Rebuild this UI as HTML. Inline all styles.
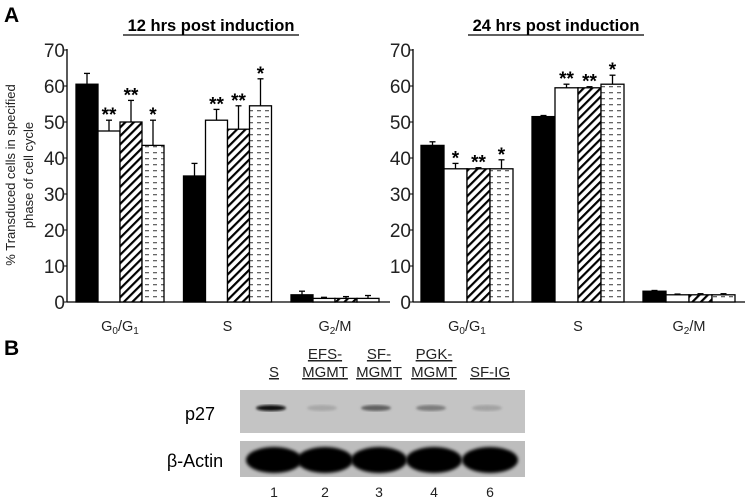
<!DOCTYPE html>
<html><head><meta charset="utf-8"><style>
body{margin:0;background:#fff;}
svg{display:block;font-family:"Liberation Sans",Arial,sans-serif;}
</style></head><body>
<svg id="fig" width="750" height="501" viewBox="0 0 750 501" xmlns="http://www.w3.org/2000/svg">
<defs>
<pattern id="hatch" patternUnits="userSpaceOnUse" width="6" height="6" patternTransform="rotate(45)">
<rect width="6" height="6" fill="#fff"/><rect x="0" y="0" width="2.2" height="6" fill="#000"/></pattern>
<pattern id="dash" patternUnits="userSpaceOnUse" width="8" height="6">
<rect width="8" height="6" fill="#fff"/><rect x="1" y="2" width="4" height="1.3" fill="#666"/></pattern>
<filter id="blur"><feGaussianBlur stdDeviation="1.6"/></filter>
<filter id="blur2"><feGaussianBlur stdDeviation="1.2"/></filter>
</defs>
<text x="4" y="22" font-size="21" font-weight="bold">A</text>
<text x="4" y="355" font-size="21" font-weight="bold">B</text>
<g transform="translate(26,175) rotate(-90)">
<text x="0" y="-11" font-size="13" text-anchor="middle" fill="#222">% Transduced cells in specified</text>
<text x="0" y="7" font-size="13" text-anchor="middle" fill="#222">phase of cell cycle</text>
</g>
<g id="charts"></g>
<g id="blot">
<rect x="240" y="390" width="285" height="43" fill="#c4c4c4"/>
<rect x="240" y="441" width="285" height="36" fill="#bdbdbd"/>
<text x="200" y="420" font-size="18" text-anchor="middle">p27</text>
<text x="195" y="467" font-size="18" text-anchor="middle">β-Actin</text>
</g>
</svg>
<script>
const categories=["G0/G1","S","G2/M"];
const left12=[[60.5,47.5,50,43.5],[35,50.5,48,54.5],[2,1,1,1]];
const err12=[[3,3,6,7],[3.5,3,6.5,7.5],[1,0.3,0.5,0.8]];
const stars12=[["","**","**","*"],["","**","**","*"],["","","",""]];
const right24=[[43.5,37,37,37],[51.5,59.5,59.5,60.5],[3,2,2,2]];
const err24=[[1,1.5,0.3,2.5],[0.3,1,0.3,2.5],[0.2,0.2,0.3,0.3]];
const stars24=[["","*","**","*"],["","**","**","*"],["","","",""]];
const yTicks=[0,10,20,30,40,50,60,70];
const lanes=["S","EFS-\nMGMT","SF-\nMGMT","PGK-\nMGMT","SF-IG"];
const laneNums=["1","2","3","4","6"];
const p27Intensity=[0.95,0.12,0.5,0.35,0.15];
const actinIntensity=[0.95,0.9,0.9,0.9,0.95];

const NS="http://www.w3.org/2000/svg";
function mk(tag,attrs,parent){const e=document.createElementNS(NS,tag);for(const k in attrs)e.setAttribute(k,attrs[k]);parent.appendChild(e);return e;}
const fills=["#000","#fff","url(#hatch)","url(#dash)"];
const root=document.getElementById("charts");

function chart(cfg,vals,errs,stars,title,name){
  const g=mk("g",{},root);
  
  
  const y0=302,y70=50;
  const ys=v=>y0-(v/70)*(y0-y70);
  const t=mk("text",{x:cfg.titleX,y:31,"font-size":16.5,"font-weight":"bold","text-anchor":"middle"},g);
  t.textContent=title;
  
  
  mk("line",{x1:cfg.titleX-88,x2:cfg.titleX+88,y1:35,y2:35,stroke:"#000","stroke-width":1.3},g);
  const ya=mk("line",{x1:cfg.ax,x2:cfg.ax,y1:y70-1,y2:y0,stroke:"#000","stroke-width":1.3},g);
  
  
  const xa=mk("line",{x1:cfg.ax,x2:cfg.axEnd,y1:y0,y2:y0,stroke:"#000","stroke-width":1.3},g);
  
  
  yTicks.forEach(v=>{
    mk("line",{x1:cfg.ax-4,x2:cfg.ax,y1:ys(v),y2:ys(v),stroke:"#000"},g);
    const tl=mk("text",{x:cfg.ax-2,y:ys(v)+7,"font-size":19,"text-anchor":"end",fill:"#222"},g);
    tl.textContent=v;
    
    
  });
  categories.forEach((c,ci)=>{
    const gx=cfg.g0+ci*cfg.gap;
    vals[ci].forEach((v,bi)=>{
      const x=gx+bi*cfg.bw, top=ys(v);
      const e=ys(v+errs[ci][bi]);
      mk("line",{x1:x+cfg.bw/2,x2:x+cfg.bw/2,y1:top,y2:e,stroke:"#000","stroke-width":1.3},g);
      mk("line",{x1:x+cfg.bw/2-3,x2:x+cfg.bw/2+3,y1:e,y2:e,stroke:"#000","stroke-width":1.3},g);
      const r=mk("rect",{x:x,y:top,width:cfg.bw,height:y0-top,fill:fills[bi],stroke:"#000","stroke-width":1.3},g);
      
      
      if(stars[ci][bi]){
        const s=mk("text",{x:x+cfg.bw/2,y:e+1,"font-size":19,"font-weight":"bold","text-anchor":"middle"},g);
        s.textContent=stars[ci][bi];
        
        
      }
    });
    const cx=gx+2*cfg.bw;
    const lab=mk("text",{x:cx,y:331,"font-size":14.5,"text-anchor":"middle",fill:"#222"},g);
    
    
    if(ci===0){lab.innerHTML='G<tspan font-size="10" dy="3">0</tspan><tspan dy="-3">/G</tspan><tspan font-size="10" dy="3">1</tspan>';}
    else if(ci===1){lab.textContent="S";}
    else{lab.innerHTML='G<tspan font-size="10" dy="3">2</tspan><tspan dy="-3">/M</tspan>';}
  });
}
chart({ax:67,axEnd:390,g0:76,gap:107.5,bw:22,titleX:211},left12,err12,stars12,"12 hrs post induction","chart-12hrs");
chart({ax:413,axEnd:745,g0:421,gap:111,bw:23,titleX:556},right24,err24,stars24,"24 hrs post induction","chart-24hrs");

const blot=document.getElementById("blot");
const laneX=[274,325,379,434,490];
lanes.forEach((l,i)=>{
  const lines=l.split("\n");
  lines.forEach((ln,j)=>{
    const yy=lines.length===1?377:(j===0?359:377);
    const t=mk("text",{x:laneX[i],y:yy,"font-size":15,"text-anchor":"middle",fill:"#222","text-decoration":"underline"},blot);
    t.textContent=ln;
    
    
  });
  const n=mk("text",{x:laneX[i],y:497,"font-size":14,"text-anchor":"middle",fill:"#222"},blot);
  n.textContent=laneNums[i];
  
  
  const pi=p27Intensity[i];
  const c=Math.round(190-190*pi);
  const b=mk("ellipse",{cx:laneX[i]-3,cy:408,rx:15,ry:3,fill:"rgb("+c+","+c+","+c+")",filter:"url(#blur2)"},blot);
  
  
  const ai=actinIntensity[i];
  const d=Math.round(50-50*ai);
  const a=mk("ellipse",{cx:laneX[i],cy:460,rx:28,ry:13,fill:"rgb("+d+","+d+","+d+")",filter:"url(#blur)"},blot);
  
  
});
</script>
</body></html>
